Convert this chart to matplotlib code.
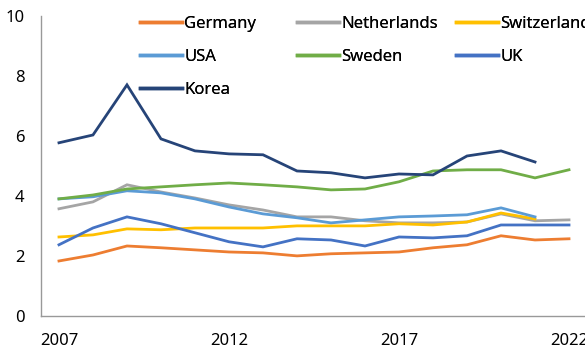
import numpy as np
import matplotlib
matplotlib.use('Agg')
import matplotlib.pyplot as plt
from matplotlib.lines import Line2D

plt.rcParams['font.family'] = ['Noto Sans', 'DejaVu Sans']

years = list(range(2007, 2023))

germany = [1.83, 2.03, 2.33, 2.27, 2.20, 2.13, 2.10, 2.00, 2.07, 2.10, 2.13,
           2.27, 2.37, 2.67, 2.53, 2.57]
netherlands = [3.57, 3.80, 4.37, 4.13, 3.93, 3.70, 3.53, 3.30, 3.30, 3.17,
               3.10, 3.10, 3.13, 3.40, 3.17, 3.20]
switzerland = [2.63, 2.70, 2.90, 2.87, 2.93, 2.93, 2.93, 3.00, 3.00, 3.00,
               3.07, 3.03, 3.13, 3.43, 3.23]
usa = [3.90, 3.97, 4.17, 4.10, 3.90, 3.63, 3.40, 3.27, 3.10, 3.20, 3.30,
       3.33, 3.37, 3.60, 3.30]
sweden = [3.90, 4.03, 4.23, 4.30, 4.37, 4.43, 4.37, 4.30, 4.20, 4.23, 4.47,
          4.83, 4.87, 4.87, 4.60, 4.87]
uk = [2.37, 2.93, 3.30, 3.07, 2.77, 2.47, 2.30, 2.57, 2.53, 2.33, 2.63,
      2.60, 2.67, 3.03, 3.03, 3.03]
korea = [5.77, 6.03, 7.70, 5.90, 5.50, 5.40, 5.37, 4.83, 4.77, 4.60, 4.73,
         4.70, 5.33, 5.50, 5.13]

series = [
    ('Germany', germany, '#ED7D31'),
    ('Netherlands', netherlands, '#A5A5A5'),
    ('Switzerland', switzerland, '#FFC000'),
    ('USA', usa, '#5B9BD5'),
    ('Sweden', sweden, '#70AD47'),
    ('UK', uk, '#4472C4'),
    ('Korea', korea, '#264478'),
]

fig = plt.figure(figsize=(5.85, 3.61), dpi=100)
ax = fig.add_axes([0.070, 0.125, 0.930, 0.831])

handles = {}
for name, vals, col in series:
    line, = ax.plot(years[:len(vals)], vals, color=col, lw=2.0,
                    solid_joinstyle='miter', label=name)
    handles[name] = line

ax.set_xlim(2006.47, 2022.47)
ax.set_ylim(0, 10)
ax.set_xticks([2007, 2012, 2017, 2022])
ax.set_yticks([0, 2, 4, 6, 8, 10])
ax.tick_params(length=0, labelsize=12, pad=12)
for s in ['top', 'right']:
    ax.spines[s].set_visible(False)
for s in ['left', 'bottom']:
    ax.spines[s].set_color('#999999')
    ax.spines[s].set_linewidth(1.0)

#  Legend: three columns placed by hand (Excel-like fixed column widths)
columns = [['Germany', 'USA', 'Korea'],
           ['Netherlands', 'Sweden'],
           ['Switzerland', 'UK']]
col_x = [140, 297, 456]
for names, x in zip(columns, col_x):
    hs = [Line2D([], [], color=handles[n].get_color(), lw=2.5) for n in names]
    leg = fig.legend(hs, names, loc='upper left',
                     bbox_to_anchor=(x / 585, 1 - 16 / 361),
                     bbox_transform=fig.transFigure, frameon=False,
                     fontsize=12, handlelength=2.5, handletextpad=0.15,
                     labelspacing=1.02, borderpad=0, borderaxespad=0)
    fig.add_artist(leg)

fig.savefig('out.png', dpi=100)
